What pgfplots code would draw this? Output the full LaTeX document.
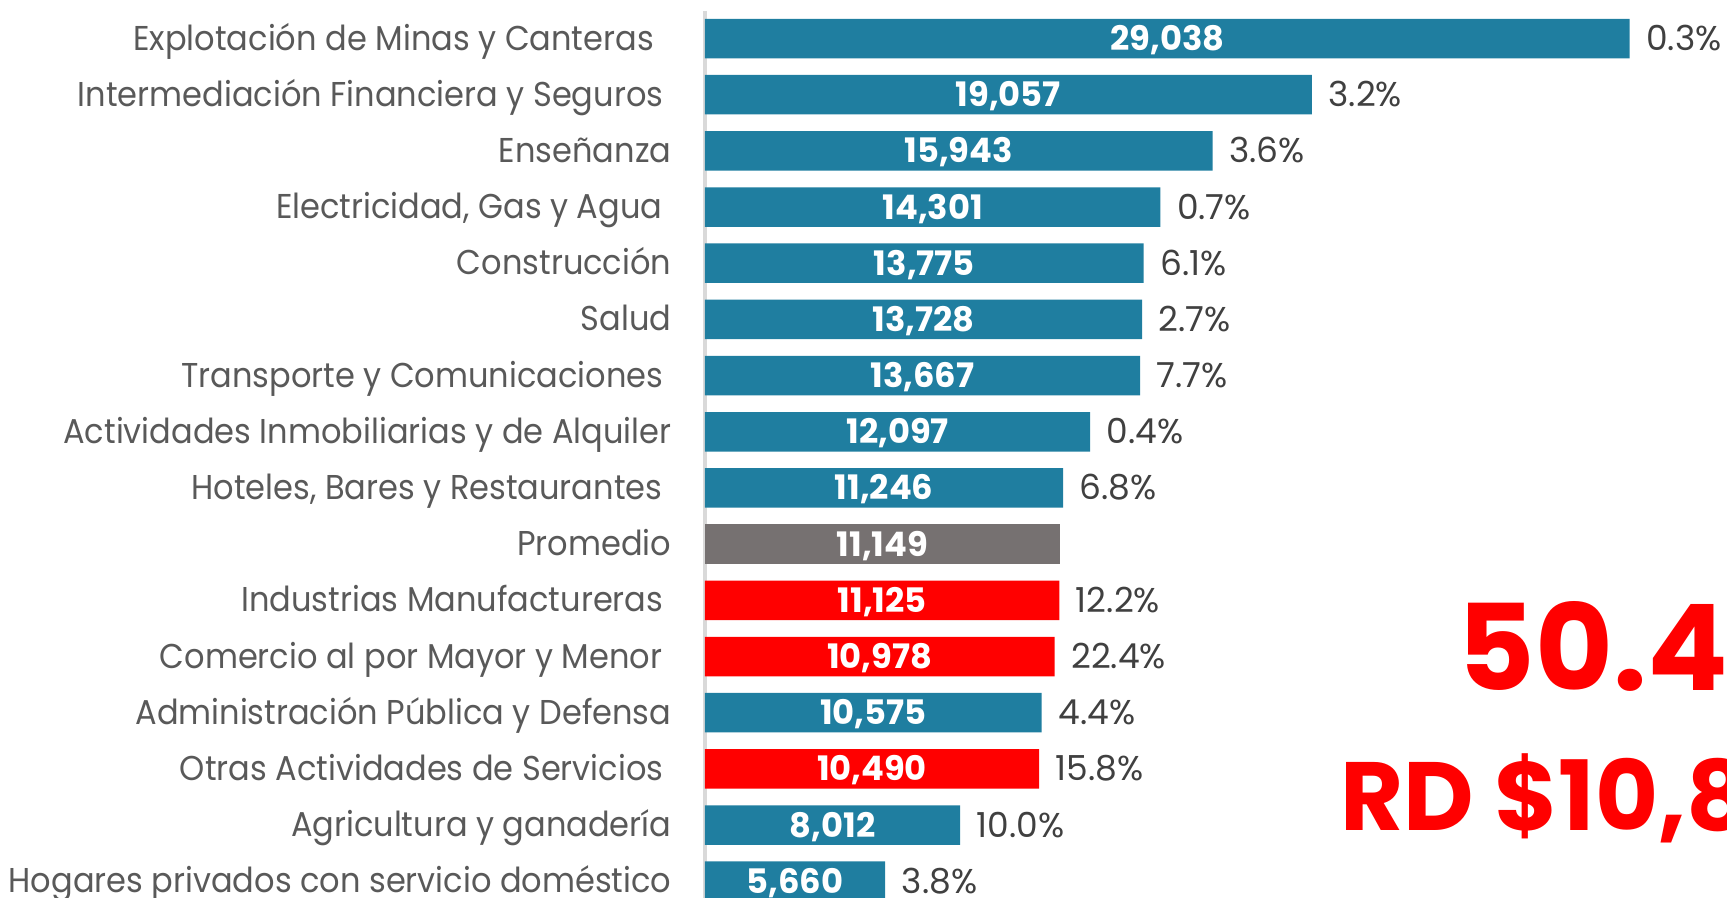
\documentclass[border=0pt]{standalone}
\usepackage{fontspec}
\setmainfont{Poppins}
\newfontfamily\labfont{Poppins}[FakeStretch=0.93]
\usepackage{pgfplots}
\usepackage{pgfplotstable}
\pgfplotsset{compat=1.18}
\definecolor{barblue}{HTML}{1F7EA0}
\definecolor{bargray}{HTML}{767171}
\definecolor{barred}{HTML}{FF0000}
\definecolor{labgray}{HTML}{595959}
\definecolor{pctgray}{HTML}{404040}

% idx: position from the top, val: salario RD$, pct: share (0 = none),
% grp: bar colour (0 blue, 1 gray, 2 red)
\pgfplotstableread{
idx val pct grp
0 29038 0.3 0
1 19057 3.2 0
2 15943 3.6 0
3 14301 0.7 0
4 13775 6.1 0
5 13728 2.7 0
6 13667 7.7 0
7 12097 0.4 0
8 11246 6.8 0
9 11149 0 1
10 11125 12.2 2
11 10978 22.4 2
12 10575 4.4 0
13 10490 15.8 2
14 8012 10.0 0
15 5660 3.8 0
}\datos

\begin{document}
\begin{tikzpicture}
\path[use as bounding box] (-70.5mm,3.85mm) rectangle (102.2mm,-85.85mm);
\clip (-70.5mm,3.85mm) rectangle (102.2mm,-85.85mm);
\begin{axis}[
  anchor=origin, at={(0,0)},
  x=0.0031941mm, y=5.618mm, y dir=reverse,
  xmin=0, xmax=32000, ymin=-0.49, ymax=15.8,
  axis x line=none, axis y line*=left,
  y axis line style={-, draw=black!15, line width=1.1pt},
  major tick length=0pt, xtick=\empty,
  ytick={0,...,15},
  yticklabels={
    Explotación de Minas y Canteras\kern1.75mm,
    Intermediación Financiera y Seguros\kern0.8mm,
    Enseñanza,
    Electricidad{,} Gas y Agua\kern0.9mm,
    Construcción,
    Salud,
    Transporte y Comunicaciones\kern0.8mm,
    Actividades Inmobiliarias y de Alquiler,
    Hoteles{,} Bares y Restaurantes\kern0.9mm,
    Promedio,
    Industrias Manufactureras\kern0.8mm,
    Comercio al por Mayor y Menor\kern0.9mm,
    Administración Pública y Defensa,
    Otras Actividades de Servicios\kern0.8mm,
    Agricultura y ganadería,
    Hogares privados con servicio doméstico},
  yticklabel style={font=\labfont\fontsize{9.8}{12}\selectfont, text=labgray,
    anchor=base east, inner sep=0pt, xshift=-3.3mm, yshift=-1.15mm},
  /pgf/number format/assume math mode=true,
  clip=false,
]
\addplot[xbar, bar width=3.95mm, bar shift=0pt, fill=barblue, draw=none,
  restrict expr to domain={\thisrow{grp}}{-0.5:0.5}] table[x=val, y=idx] {\datos};
\addplot[xbar, bar width=3.95mm, bar shift=0pt, fill=bargray, draw=none,
  restrict expr to domain={\thisrow{grp}}{0.5:1.5}] table[x=val, y=idx] {\datos};
\addplot[xbar, bar width=3.95mm, bar shift=0pt, fill=barred, draw=none,
  restrict expr to domain={\thisrow{grp}}{1.5:2.5}] table[x=val, y=idx] {\datos};
% values inside the bars
\addplot[draw=none, mark=none, point meta=\thisrow{val},
  nodes near coords={\pgfmathprintnumber[fixed,precision=0,1000 sep={,}]{\pgfplotspointmeta}},
  every node near coord/.append style={anchor=base, inner sep=0pt, yshift=-1.2mm,
    text=white, font=\bfseries\fontsize{9.6}{11}\selectfont}]
  table[x expr=\thisrow{val}/2, y=idx] {\datos};
% shares right of the bars
\addplot[draw=none, mark=none, point meta=\thisrow{pct},
  restrict expr to domain={\thisrow{pct}}{0.05:100},
  nodes near coords={\pgfmathprintnumber[fixed,precision=1,fixed zerofill]{\pgfplotspointmeta}\%},
  every node near coord/.append style={anchor=base west, inner sep=0pt,
    xshift=1.6mm, yshift=-1.2mm, text=pctgray, font=\fontsize{9.8}{12}\selectfont}]
  table[x=val, y=idx] {\datos};
\end{axis}
\node[anchor=base west, inner sep=0pt, text=barred,
  font=\bfseries\fontsize{34}{34}\selectfont] at (75.2mm,-65.15mm) {50.4\%};
\node[anchor=base west, inner sep=0pt, text=barred,
  font=\bfseries\fontsize{27.6}{28}\selectfont] at (63.5mm,-79.15mm) {RD \$10,8};
\end{tikzpicture}
\end{document}
